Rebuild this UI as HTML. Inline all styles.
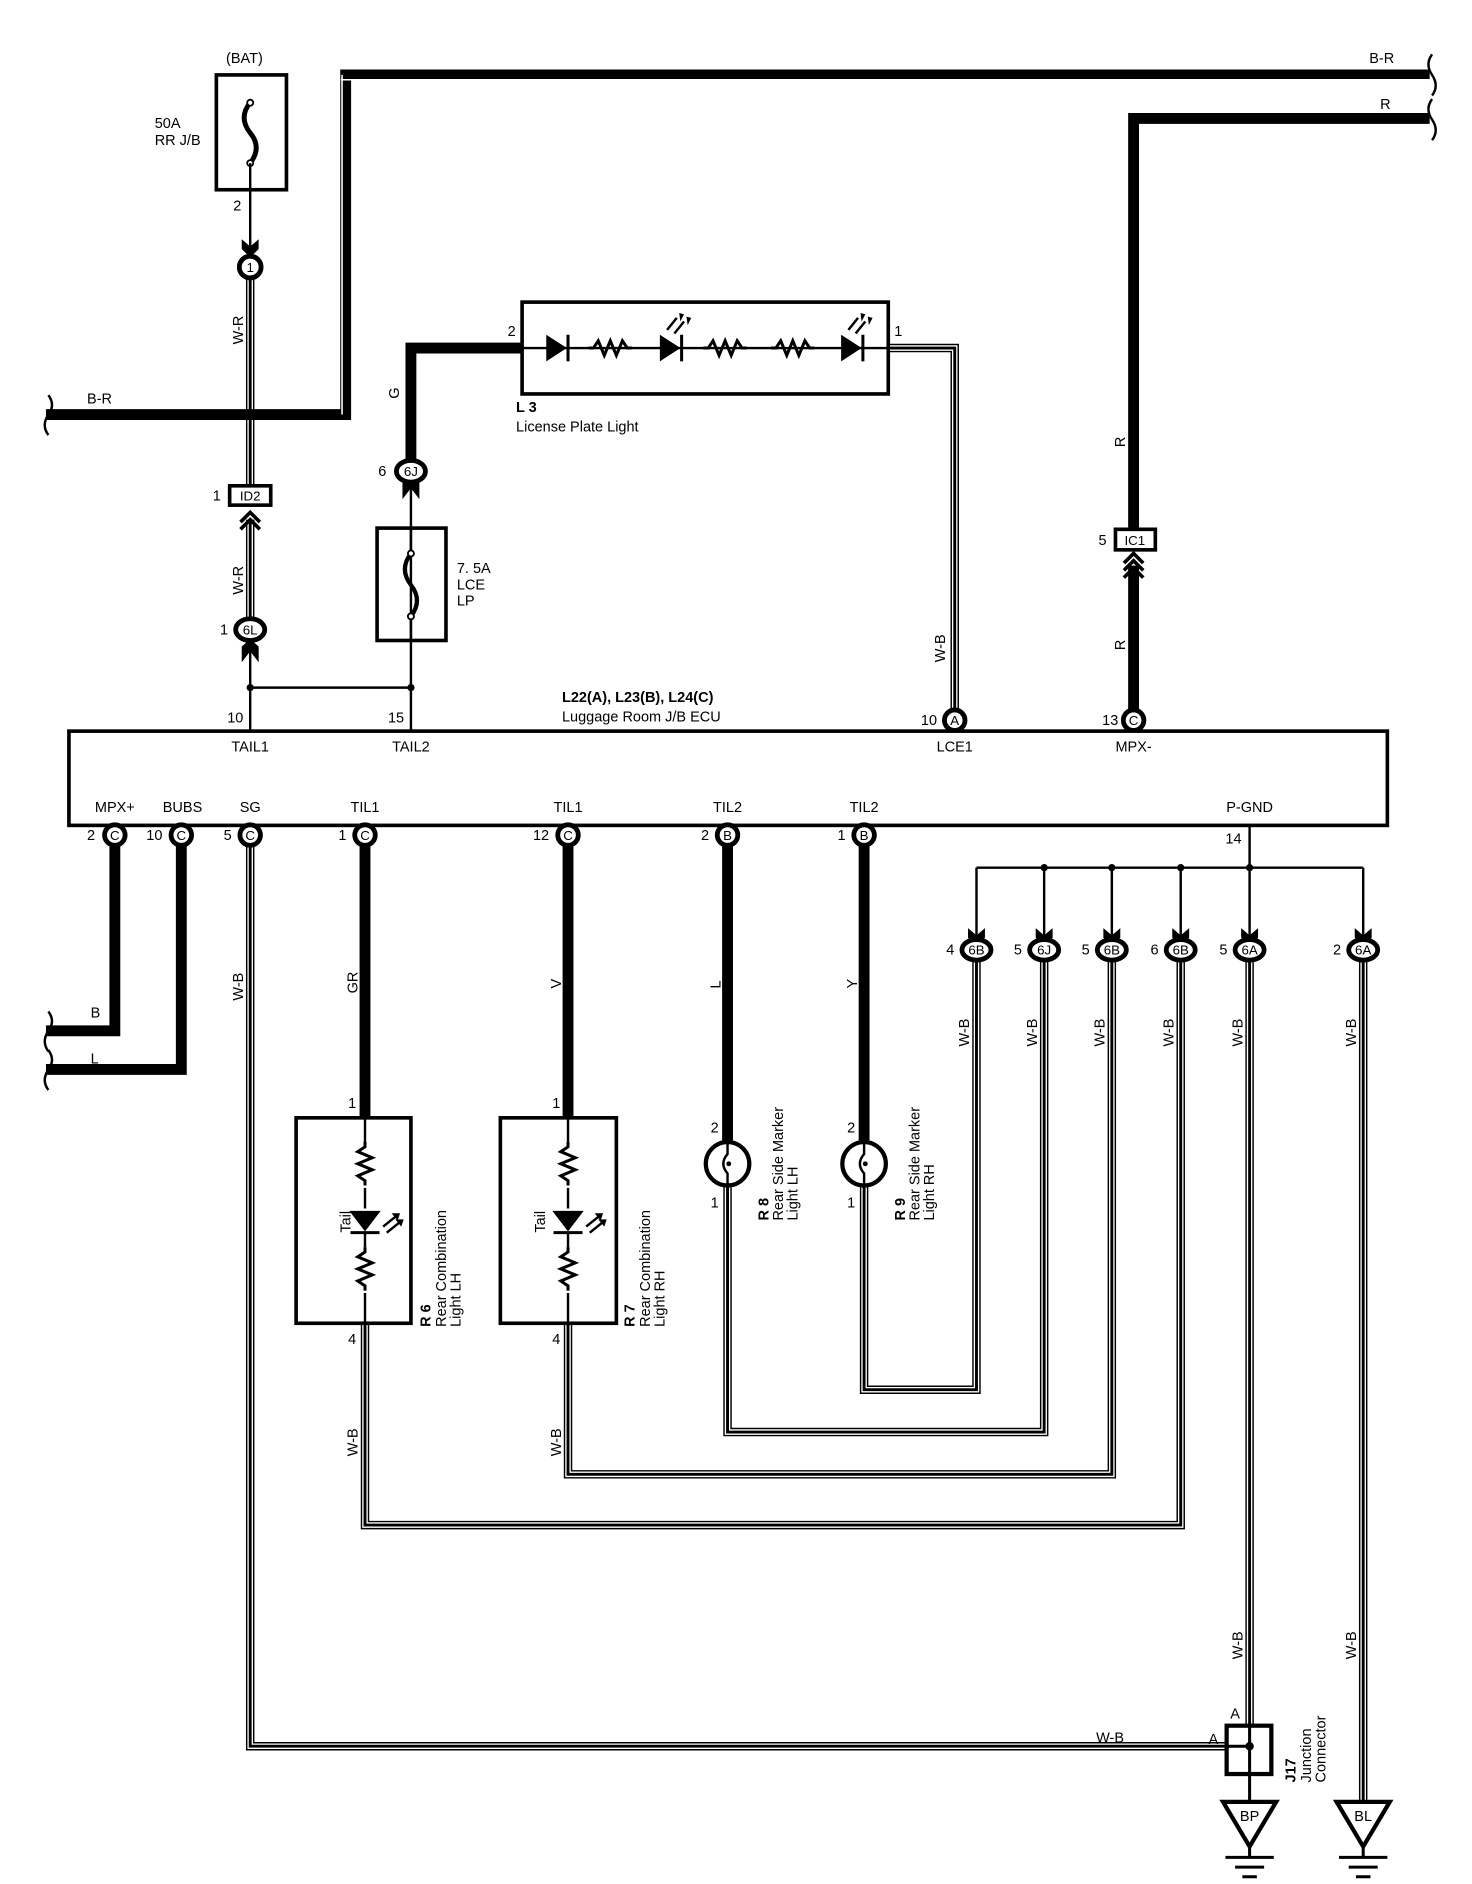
<!DOCTYPE html>
<html><head><meta charset="utf-8"><style>
html,body{margin:0;padding:0;background:#fff;}
svg{display:block;}
text{font-family:"Liberation Sans",sans-serif;font-size:12px;fill:#000;}
.k{fill:none;stroke:#000;stroke-width:7;stroke-linejoin:miter;}
.wh{fill:none;stroke:#fff;stroke-width:4.6;stroke-linejoin:miter;}
.c{fill:none;stroke:#000;stroke-width:2.4;stroke-linejoin:miter;}
.t{fill:none;stroke:#000;stroke-width:9;stroke-linejoin:miter;}
.s{fill:none;stroke:#000;stroke-width:2;}
.box{fill:none;stroke:#000;stroke-width:3;}
.cn{fill:#fff;stroke:#000;stroke-width:4;}
.ct{font-size:11px;text-anchor:middle;}
</style></head><body>
<svg width="1472" height="1884" viewBox="0 0 1218 1559" xmlns="http://www.w3.org/2000/svg">
<defs>
<path id="d1" d="M207,230 V402"/>
<path id="d2" d="M207,430 V512"/>
<path id="d3" d="M735,288 H790 V588"/>
<path id="d4" d="M207,700 V1445 H1015"/>
<path id="d5" d="M808,795 V1150 H715 V978"/>
<path id="d6" d="M864,795 V1185 H602 V978"/>
<path id="d7" d="M920,795 V1220 H470 V1095"/>
<path id="d8" d="M977,795 V1262 H302 V1095"/>
<path id="d9" d="M1034,795 V1428"/>
<path id="d10" d="M1128,795 V1490"/>
<g id="res"><path d="M0,0 l0,4 l-6,4 l12,5 l-12,5 l12,5 l-12,5 l6,4 l0,4" fill="none" stroke="#000" stroke-width="2.5"/></g>
<g id="hres"><path d="M0,0 l4,0 l4,-6 l5,12 l5,-12 l5,12 l5,-12 l4,6 l4,0" fill="none" stroke="#000" stroke-width="2.5"/></g>
</defs>

<g>
<use href="#d1" class="k"/><use href="#d1" class="wh"/><use href="#d1" class="c"/>
<use href="#d2" class="k"/><use href="#d2" class="wh"/><use href="#d2" class="c"/>
<use href="#d3" class="k"/><use href="#d3" class="wh"/><use href="#d3" class="c"/>
<use href="#d4" class="k"/><use href="#d4" class="wh"/><use href="#d4" class="c"/>
<use href="#d5" class="k"/><use href="#d5" class="wh"/><use href="#d5" class="c"/>
<use href="#d6" class="k"/><use href="#d6" class="wh"/><use href="#d6" class="c"/>
<use href="#d7" class="k"/><use href="#d7" class="wh"/><use href="#d7" class="c"/>
<use href="#d8" class="k"/><use href="#d8" class="wh"/><use href="#d8" class="c"/>
<use href="#d9" class="k"/><use href="#d9" class="wh"/><use href="#d9" class="c"/>
<use href="#d10" class="k"/><use href="#d10" class="wh"/><use href="#d10" class="c"/>
</g>

<path class="t" d="M38,343 H286 V62 H1183"/>
<path d="M283,343 V62" stroke="#fff" stroke-width="1.3" fill="none"/>
<path d="M282,66 H1183" stroke="#fff" stroke-width="1.3" fill="none"/>
<path class="t" d="M1183,98 H938 V438"/>
<path class="t" d="M938,468 V588"/>
<path class="t" d="M432,288 H340 V382"/>
<path class="t" d="M95,700 V853 H38"/>
<path class="t" d="M150,700 V885 H38"/>
<path class="t" d="M302,700 V925"/>
<path class="t" d="M470,700 V925"/>
<path class="t" d="M602,700 V947"/>
<path class="t" d="M715,700 V947"/>
<path class="s" d="M1185,45 q-6,8 0,17 q6,9 0,17" />
<path class="s" d="M1185,82 q-6,8 0,17 q6,9 0,17" />
<path class="s" d="M40,327 q6,8 0,16 q-6,9 0,17" />
<path class="s" d="M40,837 q6,8 0,16 q-6,9 0,17" />
<path class="s" d="M40,869 q6,8 0,16 q-6,9 0,17" />

<path class="s" d="M207,157 V212"/>
<path class="s" d="M207,530 V605 M207,569 H340 M340,398 V605"/>
<path class="s" d="M1034,683 V776 M808,718 H1128 M808,718 V776 M864,718 V776 M920,718 V776 M977,718 V776 M1128,718 V776"/>
<circle cx="207" cy="569" r="3"/><circle cx="340" cy="569" r="3"/>
<circle cx="864" cy="718" r="3"/><circle cx="920" cy="718" r="3"/><circle cx="977" cy="718" r="3"/><circle cx="1034" cy="718" r="3"/>

<rect class="box" x="179" y="62" width="58" height="95"/>
<path d="M207,85 q-10,12 0,25 q10,12 0,25" fill="none" stroke="#000" stroke-width="4"/>
<circle cx="207" cy="85" r="2.5" fill="#fff" stroke="#000" stroke-width="1.5"/>
<circle cx="207" cy="135" r="2.5" fill="#fff" stroke="#000" stroke-width="1.5"/>
<path class="s" d="M207,135 V157"/>
<text x="187" y="52">(BAT)</text>
<text x="128" y="106">50A</text><text x="128" y="120">RR J/B</text>
<text x="193" y="174">2</text>

<rect class="box" x="312" y="437" width="57" height="93"/>
<path class="s" d="M340,437 V458 M340,510 V530"/>
<path d="M340,458 q-10,13 0,26 q10,13 0,26" fill="none" stroke="#000" stroke-width="3.5"/>
<circle cx="340" cy="458" r="2.5" fill="#fff" stroke="#000" stroke-width="1.5"/>
<circle cx="340" cy="510" r="2.5" fill="#fff" stroke="#000" stroke-width="1.5"/>
<text x="378" y="474">7. 5A</text><text x="378" y="488">LCE</text><text x="378" y="501">LP</text>

<rect class="box" x="432" y="250" width="303" height="76"/>
<path class="s" d="M432,288 H735"/>
<polygon points="452,277 452,299 469,288"/><path d="M470,277 V299" stroke="#000" stroke-width="2.5"/>
<use href="#hres" x="487" y="288"/>
<polygon points="546,277 546,299 563,288"/><path d="M564,277 V299" stroke="#000" stroke-width="2.5"/>
<use href="#hres" x="582" y="288"/>
<use href="#hres" x="638" y="288"/>
<polygon points="696,277 696,299 713,288"/><path d="M714,277 V299" stroke="#000" stroke-width="2.5"/>
<path d="M552,273 l8,-10 M558,276 l8,-10" stroke="#000" stroke-width="2"/>
<polygon points="562,259 566,260 563,266"/><polygon points="568,262 572,263 569,269"/>
<path d="M702,273 l8,-10 M708,276 l8,-10" stroke="#000" stroke-width="2"/>
<polygon points="712,259 716,260 713,266"/><polygon points="718,262 722,263 719,269"/>
<text x="420" y="278">2</text><text x="740" y="278">1</text>
<text x="427" y="341" font-weight="bold">L 3</text>
<text x="427" y="357">License Plate Light</text>

<rect x="190" y="402" width="34" height="16" fill="#fff" stroke="#000" stroke-width="3"/>
<text x="207" y="414" class="ct">ID2</text>
<text x="176" y="414">1</text>
<rect x="923" y="438" width="33" height="17" fill="#fff" stroke="#000" stroke-width="3"/>
<text x="939" y="451" class="ct">IC1</text>
<text x="909" y="451">5</text>
<path d="M199,432 l8,-8 l8,8 M199,438 l8,-8 l8,8" fill="none" stroke="#000" stroke-width="3"/>
<path d="M930,466 l8,-8 l8,8 M930,472 l8,-8 l8,8 M930,478 l8,-8 l8,8" fill="none" stroke="#000" stroke-width="3"/>

<polygon points="200,198 207,204 214,198 214,206 207,213 200,206"/>
<polygon points="200,548 207,539 214,548 214,535 207,529 200,535"/>
<polygon points="333,413 340,404 347,413 347,400 340,394 333,400"/>
<g>
<polygon points="801,768 808,774 815,768 815,776 808,782 801,776"/>
<polygon points="857,768 864,774 871,768 871,776 864,782 857,776"/>
<polygon points="913,768 920,774 927,768 927,776 920,782 913,776"/>
<polygon points="970,768 977,774 984,768 984,776 977,782 970,776"/>
<polygon points="1027,768 1034,774 1041,768 1041,776 1034,782 1027,776"/>
<polygon points="1121,768 1128,774 1135,768 1135,776 1128,782 1121,776"/>
</g>

<ellipse class="cn" cx="207" cy="221" rx="9" ry="9"/><text class="ct" x="207" y="225">1</text>
<ellipse class="cn" cx="207" cy="521" rx="12" ry="9"/><text class="ct" x="207" y="525">6L</text><text x="182" y="525">1</text>
<ellipse class="cn" cx="340" cy="390" rx="12" ry="9"/><text class="ct" x="340" y="394">6J</text><text x="313" y="394">6</text>
<ellipse class="cn" cx="790" cy="596" rx="8.5" ry="8.5"/><text class="ct" x="790" y="600">A</text><text x="762" y="600">10</text>
<ellipse class="cn" cx="938" cy="596" rx="8.5" ry="8.5"/><text class="ct" x="938" y="600">C</text><text x="912" y="600">13</text>

<rect x="57" y="605" width="1091" height="78" fill="#fff" stroke="#000" stroke-width="3"/>
<text x="188" y="598">10</text><text x="321" y="598">15</text>
<text x="465" y="581" font-weight="bold">L22(A), L23(B), L24(C)</text>
<text x="465" y="597">Luggage Room J/B ECU</text>
<g text-anchor="middle">
<text x="207" y="622">TAIL1</text><text x="340" y="622">TAIL2</text><text x="790" y="622">LCE1</text><text x="938" y="622">MPX-</text>
<text x="95" y="672">MPX+</text><text x="151" y="672">BUBS</text><text x="207" y="672">SG</text>
<text x="302" y="672">TIL1</text><text x="470" y="672">TIL1</text><text x="602" y="672">TIL2</text><text x="715" y="672">TIL2</text>
<text x="1034" y="672">P-GND</text>
</g>
<text x="1014" y="698">14</text>

<g>
<ellipse class="cn" cx="95" cy="691" rx="8.5" ry="8.5"/><text class="ct" x="95" y="695">C</text><text x="72" y="695">2</text>
<ellipse class="cn" cx="150" cy="691" rx="8.5" ry="8.5"/><text class="ct" x="150" y="695">C</text><text x="121" y="695">10</text>
<ellipse class="cn" cx="207" cy="691" rx="8.5" ry="8.5"/><text class="ct" x="207" y="695">C</text><text x="185" y="695">5</text>
<ellipse class="cn" cx="302" cy="691" rx="8.5" ry="8.5"/><text class="ct" x="302" y="695">C</text><text x="280" y="695">1</text>
<ellipse class="cn" cx="470" cy="691" rx="8.5" ry="8.5"/><text class="ct" x="470" y="695">C</text><text x="441" y="695">12</text>
<ellipse class="cn" cx="602" cy="691" rx="8.5" ry="8.5"/><text class="ct" x="602" y="695">B</text><text x="580" y="695">2</text>
<ellipse class="cn" cx="715" cy="691" rx="8.5" ry="8.5"/><text class="ct" x="715" y="695">B</text><text x="693" y="695">1</text>
</g>
<g>
<ellipse class="cn" cx="808" cy="786" rx="12" ry="8.5"/><text class="ct" x="808" y="790">6B</text><text x="783" y="790">4</text>
<ellipse class="cn" cx="864" cy="786" rx="12" ry="8.5"/><text class="ct" x="864" y="790">6J</text><text x="839" y="790">5</text>
<ellipse class="cn" cx="920" cy="786" rx="12" ry="8.5"/><text class="ct" x="920" y="790">6B</text><text x="895" y="790">5</text>
<ellipse class="cn" cx="977" cy="786" rx="12" ry="8.5"/><text class="ct" x="977" y="790">6B</text><text x="952" y="790">6</text>
<ellipse class="cn" cx="1034" cy="786" rx="12" ry="8.5"/><text class="ct" x="1034" y="790">6A</text><text x="1009" y="790">5</text>
<ellipse class="cn" cx="1128" cy="786" rx="12" ry="8.5"/><text class="ct" x="1128" y="790">6A</text><text x="1103" y="790">2</text>
</g>

<text x="72" y="334">B-R</text><text x="1133" y="52">B-R</text><text x="1142" y="90">R</text>
<text x="75" y="842">B</text><text x="75" y="880">L</text>
<text x="907" y="1442">W-B</text>
<g font-size="11">
<text transform="translate(201,285) rotate(-90)">W-R</text>
<text transform="translate(201,492) rotate(-90)">W-R</text>
<text transform="translate(330,330) rotate(-90)">G</text>
<text transform="translate(782,548) rotate(-90)">W-B</text>
<text transform="translate(931,370) rotate(-90)">R</text>
<text transform="translate(931,538) rotate(-90)">R</text>
<text transform="translate(201,828) rotate(-90)">W-B</text>
<text transform="translate(296,822) rotate(-90)">GR</text>
<text transform="translate(464,818) rotate(-90)">V</text>
<text transform="translate(596,818) rotate(-90)">L</text>
<text transform="translate(709,818) rotate(-90)">Y</text>
<text transform="translate(802,866) rotate(-90)">W-B</text>
<text transform="translate(858,866) rotate(-90)">W-B</text>
<text transform="translate(914,866) rotate(-90)">W-B</text>
<text transform="translate(971,866) rotate(-90)">W-B</text>
<text transform="translate(1028,866) rotate(-90)">W-B</text>
<text transform="translate(1122,866) rotate(-90)">W-B</text>
<text transform="translate(296,1205) rotate(-90)">W-B</text>
<text transform="translate(464,1205) rotate(-90)">W-B</text>
<text transform="translate(1028,1373) rotate(-90)">W-B</text>
<text transform="translate(1122,1373) rotate(-90)">W-B</text>
</g>

<rect class="box" x="245" y="925" width="95" height="170"/>
<path class="s" d="M302,925 V945 M302,983 V1000 M302,1020 V1032 M302,1070 V1095"/>
<use href="#res" x="302" y="945"/>
<polygon points="289,1002 315,1002 302,1019"/><path d="M290,1020 H314" stroke="#000" stroke-width="2.5"/>
<use href="#res" x="302" y="1032"/>
<path d="M317,1015 l10,-8 M320,1020 l10,-8" stroke="#000" stroke-width="2"/>
<polygon points="324,1004 331,1004 329,1010"/><polygon points="327,1009 334,1009 332,1015"/>
<text transform="translate(290,1020) rotate(-90)" font-size="11">Tail</text>
<text x="288" y="917">1</text><text x="288" y="1112">4</text>
<text transform="translate(356,1098) rotate(-90)" font-weight="bold">R 6</text>
<text transform="translate(369,1098) rotate(-90)" font-size="11">Rear Combination</text>
<text transform="translate(381,1098) rotate(-90)" font-size="11">Light LH</text>

<rect class="box" x="414" y="925" width="96" height="170"/>
<path class="s" d="M470,925 V945 M470,983 V1000 M470,1020 V1032 M470,1070 V1095"/>
<use href="#res" x="470" y="945"/>
<polygon points="457,1002 483,1002 470,1019"/><path d="M458,1020 H482" stroke="#000" stroke-width="2.5"/>
<use href="#res" x="470" y="1032"/>
<path d="M485,1015 l10,-8 M488,1020 l10,-8" stroke="#000" stroke-width="2"/>
<polygon points="492,1004 499,1004 497,1010"/><polygon points="495,1009 502,1009 500,1015"/>
<text transform="translate(451,1020) rotate(-90)" font-size="11">Tail</text>
<text x="457" y="917">1</text><text x="457" y="1112">4</text>
<text transform="translate(525,1098) rotate(-90)" font-weight="bold">R 7</text>
<text transform="translate(538,1098) rotate(-90)" font-size="11">Rear Combination</text>
<text transform="translate(550,1098) rotate(-90)" font-size="11">Light RH</text>

<circle cx="602" cy="963" r="18" fill="#fff" stroke="#000" stroke-width="3.5"/>
<path d="M602,945 V955 q-7,8 0,16 V981" fill="none" stroke="#000" stroke-width="2"/>
<circle cx="603" cy="963" r="2" />
<text x="588" y="937">2</text><text x="588" y="999">1</text>
<text transform="translate(636,1010) rotate(-90)" font-weight="bold">R 8</text>
<text transform="translate(648,1010) rotate(-90)" font-size="11">Rear Side Marker</text>
<text transform="translate(660,1010) rotate(-90)" font-size="11">Light LH</text>
<circle cx="715" cy="963" r="18" fill="#fff" stroke="#000" stroke-width="3.5"/>
<path d="M715,945 V955 q-7,8 0,16 V981" fill="none" stroke="#000" stroke-width="2"/>
<circle cx="716" cy="963" r="2" />
<text x="701" y="937">2</text><text x="701" y="999">1</text>
<text transform="translate(749,1010) rotate(-90)" font-weight="bold">R 9</text>
<text transform="translate(761,1010) rotate(-90)" font-size="11">Rear Side Marker</text>
<text transform="translate(773,1010) rotate(-90)" font-size="11">Light RH</text>

<rect x="1015" y="1428" width="37" height="40" fill="#fff" stroke="#000" stroke-width="3.5"/>
<path d="M1034,1428 V1490 M1015,1445 H1034" stroke="#000" stroke-width="2.5"/>
<circle cx="1034" cy="1445" r="3.5"/>
<text x="1018" y="1422">A</text><text x="1000" y="1443">A</text>
<text transform="translate(1072,1475) rotate(-90)" font-weight="bold">J17</text>
<text transform="translate(1085,1475) rotate(-90)" font-size="11">Junction</text>
<text transform="translate(1097,1475) rotate(-90)" font-size="11">Connector</text>

<polygon points="1012,1491 1056,1491 1034,1528" fill="#fff" stroke="#000" stroke-width="3.5"/>
<text x="1034" y="1507" text-anchor="middle" font-size="11">BP</text>
<path d="M1034,1528 V1536 M1014,1537 H1054 M1022,1545 H1046 M1028,1553 H1040" stroke="#000" stroke-width="2.5"/>
<polygon points="1106,1491 1150,1491 1128,1528" fill="#fff" stroke="#000" stroke-width="3.5"/>
<text x="1128" y="1507" text-anchor="middle" font-size="11">BL</text>
<path d="M1128,1528 V1536 M1108,1537 H1148 M1116,1545 H1140 M1122,1553 H1134" stroke="#000" stroke-width="2.5"/>
</svg>
</body></html>
